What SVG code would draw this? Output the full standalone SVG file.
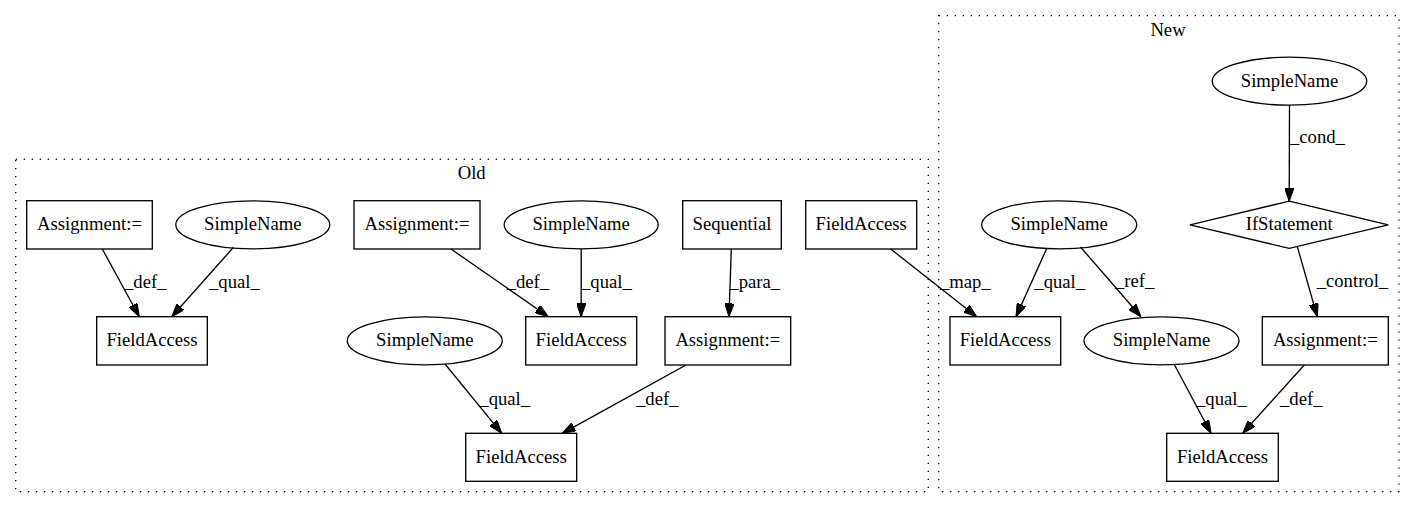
<svg xmlns="http://www.w3.org/2000/svg" width="1415" height="508" viewBox="0 0 1415 508">
<style>
text{font-family:"Liberation Serif","Times New Roman",serif;font-size:18.67px;fill:#000}
.n{text-anchor:middle}
.shape{fill:none;stroke:#000;stroke-width:1.33}
.cl{fill:none;stroke:#000;stroke-width:1.33;stroke-dasharray:1.33,6.67}
.e{fill:none;stroke:#000;stroke-width:1.33;marker-end:url(#arr)}
</style>
<defs>
<marker id="arr" viewBox="0 0 10 7" refX="10" refY="3.5" markerWidth="13.3" markerHeight="9.3" markerUnits="userSpaceOnUse" orient="auto">
<path d="M0,0 L10,3.5 L0,7 z" fill="#000" stroke="#000" stroke-width="0.8"/>
</marker>
</defs>
<rect width="1415" height="508" fill="#fff"/>
<g id="cluster-old">
<rect class="cl" x="15.7" y="159.3" width="912.6" height="332.4"/>
<text class="n" x="471.7" y="179.3">Old</text>
</g>
<g id="cluster-new">
<rect class="cl" x="938.7" y="15.7" width="460.3" height="476"/>
<text class="n" x="1168" y="35.7">New</text>
</g>
<g id="connectors">
<line class="e" x1="102.3" y1="249" x2="139.3" y2="316.7"/>
<text x="124" y="288">_def_</text>
<line class="e" x1="233.3" y1="247.5" x2="171.7" y2="316.7"/>
<text x="209" y="288">_qual_</text>
<line class="e" x1="451" y1="249" x2="548.3" y2="316.7"/>
<text x="506.7" y="288">_def_</text>
<line class="e" x1="581.2" y1="248.8" x2="581.2" y2="316.7"/>
<text x="581" y="288">_qual_</text>
<line class="e" x1="731.3" y1="249" x2="729" y2="316.7"/>
<text x="729.3" y="288">_para_</text>
<line class="e" x1="445" y1="364" x2="501.7" y2="433.3"/>
<text x="479.3" y="405">_qual_</text>
<line class="e" x1="686" y1="365" x2="562.3" y2="433.3"/>
<text x="636" y="405">_def_</text>
<line class="e" x1="890.7" y1="249" x2="976.7" y2="316.7"/>
<text x="940" y="288">_map_</text>
<line class="e" x1="1046.7" y1="248.5" x2="1016" y2="316.7"/>
<text x="1034.3" y="288">_qual_</text>
<line class="e" x1="1080.5" y1="247" x2="1141" y2="316.7"/>
<text x="1115" y="287.3">_ref_</text>
<line class="e" x1="1289.5" y1="105.2" x2="1289.2" y2="201.2"/>
<text x="1290" y="143.3">_cond_</text>
<line class="e" x1="1297.3" y1="246.5" x2="1317.3" y2="316.7"/>
<text x="1316.7" y="287.3">_control_</text>
<line class="e" x1="1174.3" y1="364.5" x2="1211" y2="433.3"/>
<text x="1196" y="404.7">_qual_</text>
<line class="e" x1="1304.3" y1="365" x2="1242.7" y2="433.3"/>
<text x="1280" y="404.7">_def_</text>
</g>
<g id="n-a1"><rect class="shape" x="26.7" y="200.7" width="125.6" height="48.3"/><text class="n" x="89.5" y="230.3">Assignment:=</text></g>
<g id="n-s1"><ellipse class="shape" cx="252.8" cy="224.8" rx="77" ry="24"/><text class="n" x="252.8" y="230.3">SimpleName</text></g>
<g id="n-f1"><rect class="shape" x="96.7" y="316.7" width="110.6" height="48.3"/><text class="n" x="152" y="346.3">FieldAccess</text></g>
<g id="n-a2"><rect class="shape" x="354" y="200.7" width="126" height="48.3"/><text class="n" x="417" y="230.3">Assignment:=</text></g>
<g id="n-s2"><ellipse class="shape" cx="581.2" cy="224.8" rx="77" ry="24"/><text class="n" x="581.2" y="230.3">SimpleName</text></g>
<g id="n-seq"><rect class="shape" x="682.7" y="200.7" width="98.6" height="48.3"/><text class="n" x="732" y="230.3">Sequential</text></g>
<g id="n-f2"><rect class="shape" x="525.7" y="316.7" width="111" height="48.3"/><text class="n" x="581.2" y="346.3">FieldAccess</text></g>
<g id="n-a3"><rect class="shape" x="665" y="316.7" width="125.7" height="48.3"/><text class="n" x="727.8" y="346.3">Assignment:=</text></g>
<g id="n-s3"><ellipse class="shape" cx="424.8" cy="340.8" rx="77.5" ry="24"/><text class="n" x="424.8" y="346.3">SimpleName</text></g>
<g id="n-f3"><rect class="shape" x="465.7" y="433.3" width="111" height="48"/><text class="n" x="521.2" y="462.8">FieldAccess</text></g>
<g id="n-f4"><rect class="shape" x="805.7" y="200.7" width="111" height="48.3"/><text class="n" x="861.2" y="230.3">FieldAccess</text></g>
<g id="n-s4"><ellipse class="shape" cx="1059.2" cy="224.8" rx="77.5" ry="24"/><text class="n" x="1059.2" y="230.3">SimpleName</text></g>
<g id="n-f5"><rect class="shape" x="950" y="316.7" width="110.7" height="48.3"/><text class="n" x="1005.3" y="346.3">FieldAccess</text></g>
<g id="n-s5"><ellipse class="shape" cx="1289.5" cy="81.2" rx="77.2" ry="24"/><text class="n" x="1289.5" y="86.7">SimpleName</text></g>
<g id="n-if"><polygon class="shape" points="1289.2,201.2 1388.3,224.8 1289.2,248.4 1190,224.8"/><text class="n" x="1289.2" y="230.3">IfStatement</text></g>
<g id="n-a4"><rect class="shape" x="1262.3" y="316.7" width="126" height="48.3"/><text class="n" x="1325.3" y="346.3">Assignment:=</text></g>
<g id="n-s6"><ellipse class="shape" cx="1161.5" cy="340.8" rx="77.5" ry="24"/><text class="n" x="1161.5" y="346.3">SimpleName</text></g>
<g id="n-f6"><rect class="shape" x="1166.7" y="433.3" width="111.6" height="48"/><text class="n" x="1222.5" y="462.8">FieldAccess</text></g>
</svg>
